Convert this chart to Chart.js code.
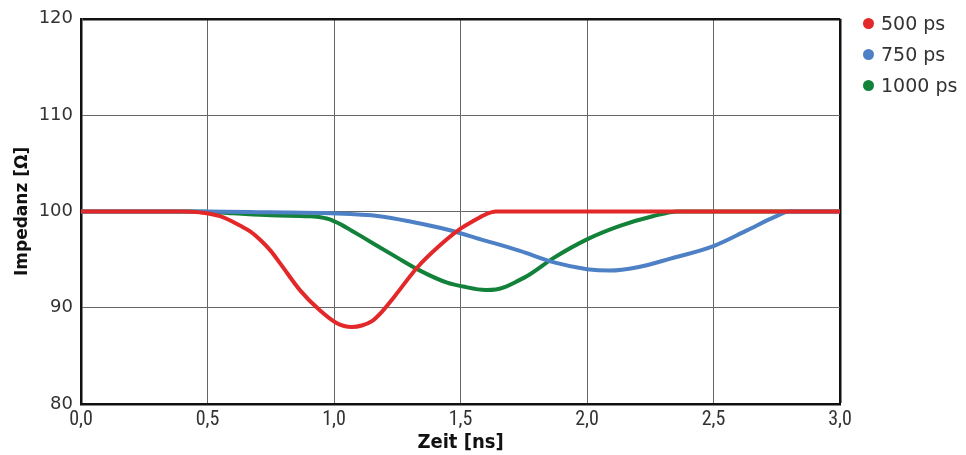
<!DOCTYPE html>
<html>
<head>
<meta charset="utf-8">
<script src="https://cdn.jsdelivr.net/npm/chart.js@4"></script>
<style>
  html, body { margin: 0; padding: 0; background: #fff; }
  #wrap { position: relative; width: 966px; height: 455px; }
  #legend { position: absolute; left: 863px; top: 10px; font-family: "DejaVu Sans", sans-serif; font-size: 19px; color: #333; }
  #legend div { height: 31px; line-height: 26px; white-space: nowrap; }
  #legend span { display: inline-block; width: 11px; height: 11px; border-radius: 50%; margin-right: 7px; vertical-align: 1px; }
</style>
</head>
<body>
<div id="wrap">
  <canvas id="chart" width="966" height="455"></canvas>
  <div id="legend"></div>
</div>
<script>
// series labels and colours
const seriesLabels = ["500 ps", "750 ps", "1000 ps"];
const seriesColors = ["#e3282a", "#4d80c4", "#12813a"];

// time axis (ns) and impedance (Ohm) per series
const redTime = [0, 0.40, 0.47, 0.55, 0.63, 0.67, 0.71, 0.75, 0.79, 0.866, 0.945, 1.01, 1.04, 1.07, 1.11, 1.15, 1.19, 1.24, 1.33, 1.42, 1.50, 1.55, 1.60, 1.64, 3.0];
const redValues = [100, 100, 99.9, 99.5, 98.5, 97.9, 97.0, 95.9, 94.5, 91.8, 89.7, 88.4, 88.1, 88.0, 88.15, 88.6, 89.6, 91.2, 94.2, 96.5, 98.2, 99.0, 99.7, 100, 100];

const blueTime = [0, 0.50, 0.75, 0.984, 1.18, 1.31, 1.45, 1.58, 1.735, 1.87, 2.00, 2.09, 2.20, 2.33, 2.50, 2.63, 2.74, 2.80, 3.0];
const blueValues = [100, 100, 99.9, 99.8, 99.5, 98.9, 98.1, 97.1, 95.9, 94.7, 94.0, 93.85, 94.2, 95.1, 96.4, 98.0, 99.4, 100, 100];

const greenTime = [0, 0.45, 0.60, 0.75, 0.90, 0.93, 0.98, 1.03, 1.07, 1.115, 1.25, 1.34, 1.447, 1.51, 1.60, 1.64, 1.68, 1.72, 1.77, 1.87, 2.00, 2.13, 2.26, 2.36, 3.0];
const greenValues = [100, 100, 99.8, 99.6, 99.5, 99.45, 99.2, 98.6, 98.0, 97.3, 95.2, 93.85, 92.6, 92.2, 91.85, 91.9, 92.2, 92.7, 93.4, 95.2, 97.1, 98.5, 99.5, 100, 100];

// axes
const xMin = 0, xMax = 3, xStep = 0.5;
const yMin = 80, yMax = 120, yStep = 10;
const xTitle = "Zeit [ns]";
const yTitle = "Impedanz [\u03A9]";

function toPoints(ts, vs) {
    return ts.map((t, i) => ({ x: t, y: vs[i] }));
}

const allSeries = [
    toPoints(redTime, redValues),
    toPoints(blueTime, blueValues),
    toPoints(greenTime, greenValues)
];

// legend as plain html on the right
const legendEl = document.getElementById("legend");
seriesLabels.forEach((lbl, i) => {
    const row = document.createElement("div");
    row.innerHTML = '<span style="background:' + seriesColors[i] + '"></span>' + lbl;
    legendEl.appendChild(row);
});

const edgeColor = (isEdge) => isEdge ? "#111" : "#666";

new Chart(document.getElementById("chart").getContext("2d"), {
    type: "line",
    data: {
        datasets: allSeries.map((pts, i) => ({
            label: seriesLabels[i],
            data: pts,
            borderColor: seriesColors[i],
            backgroundColor: seriesColors[i],
            borderWidth: 4,
            pointRadius: 0,
            cubicInterpolationMode: "monotone",
            fill: false
        }))
    },
    options: {
        responsive: false,
        animation: false,
        layout: { padding: { left: 0, right: 126, top: 17, bottom: 0 } },
        plugins: {
            legend: { display: false },
            tooltip: { enabled: false }
        },
        scales: {
            x: {
                type: "linear",
                min: xMin,
                max: xMax,
                afterFit: (scale) => { scale.height = 51; },
                ticks: {
                    stepSize: xStep,
                    padding: 4,
                    color: "#333",
                    font: { family: "'Liberation Sans Narrow', 'Roboto Condensed', 'DejaVu Sans Condensed', sans-serif", size: 20 },
                    callback: (v) => v.toFixed(1).replace(".", ",")
                },
                grid: {
                    drawTicks: false,
                    color: (c) => edgeColor(c.tick && c.tick.value === xMax),
                    lineWidth: (c) => (c.tick && c.tick.value === xMax) ? 2.5 : 1
                },
                border: { display: true, color: "#111", width: 2.5 },
                title: {
                    display: true,
                    text: xTitle,
                    color: "#111",
                    padding: { top: 0, bottom: 0 },
                    font: { family: "'Liberation Sans Narrow', 'DejaVu Sans Condensed', sans-serif", size: 20, weight: "bold" }
                }
            },
            y: {
                min: yMin,
                max: yMax,
                afterFit: (scale) => { scale.width = 81; },
                ticks: {
                    stepSize: yStep,
                    padding: 8,
                    color: "#333",
                    font: { family: "'DejaVu Sans', sans-serif", size: 18 }
                },
                grid: {
                    drawTicks: false,
                    color: (c) => edgeColor(c.tick && c.tick.value === yMax),
                    lineWidth: (c) => (c.tick && c.tick.value === yMax) ? 2.5 : 1
                },
                border: { display: true, color: "#111", width: 2.5 },
                title: {
                    display: true,
                    text: yTitle,
                    color: "#111",
                    padding: { top: 12, bottom: 0 },
                    font: { family: "'DejaVu Sans', sans-serif", size: 17, weight: "bold" }
                }
            }
        }
    }
});
</script>
</body>
</html>
